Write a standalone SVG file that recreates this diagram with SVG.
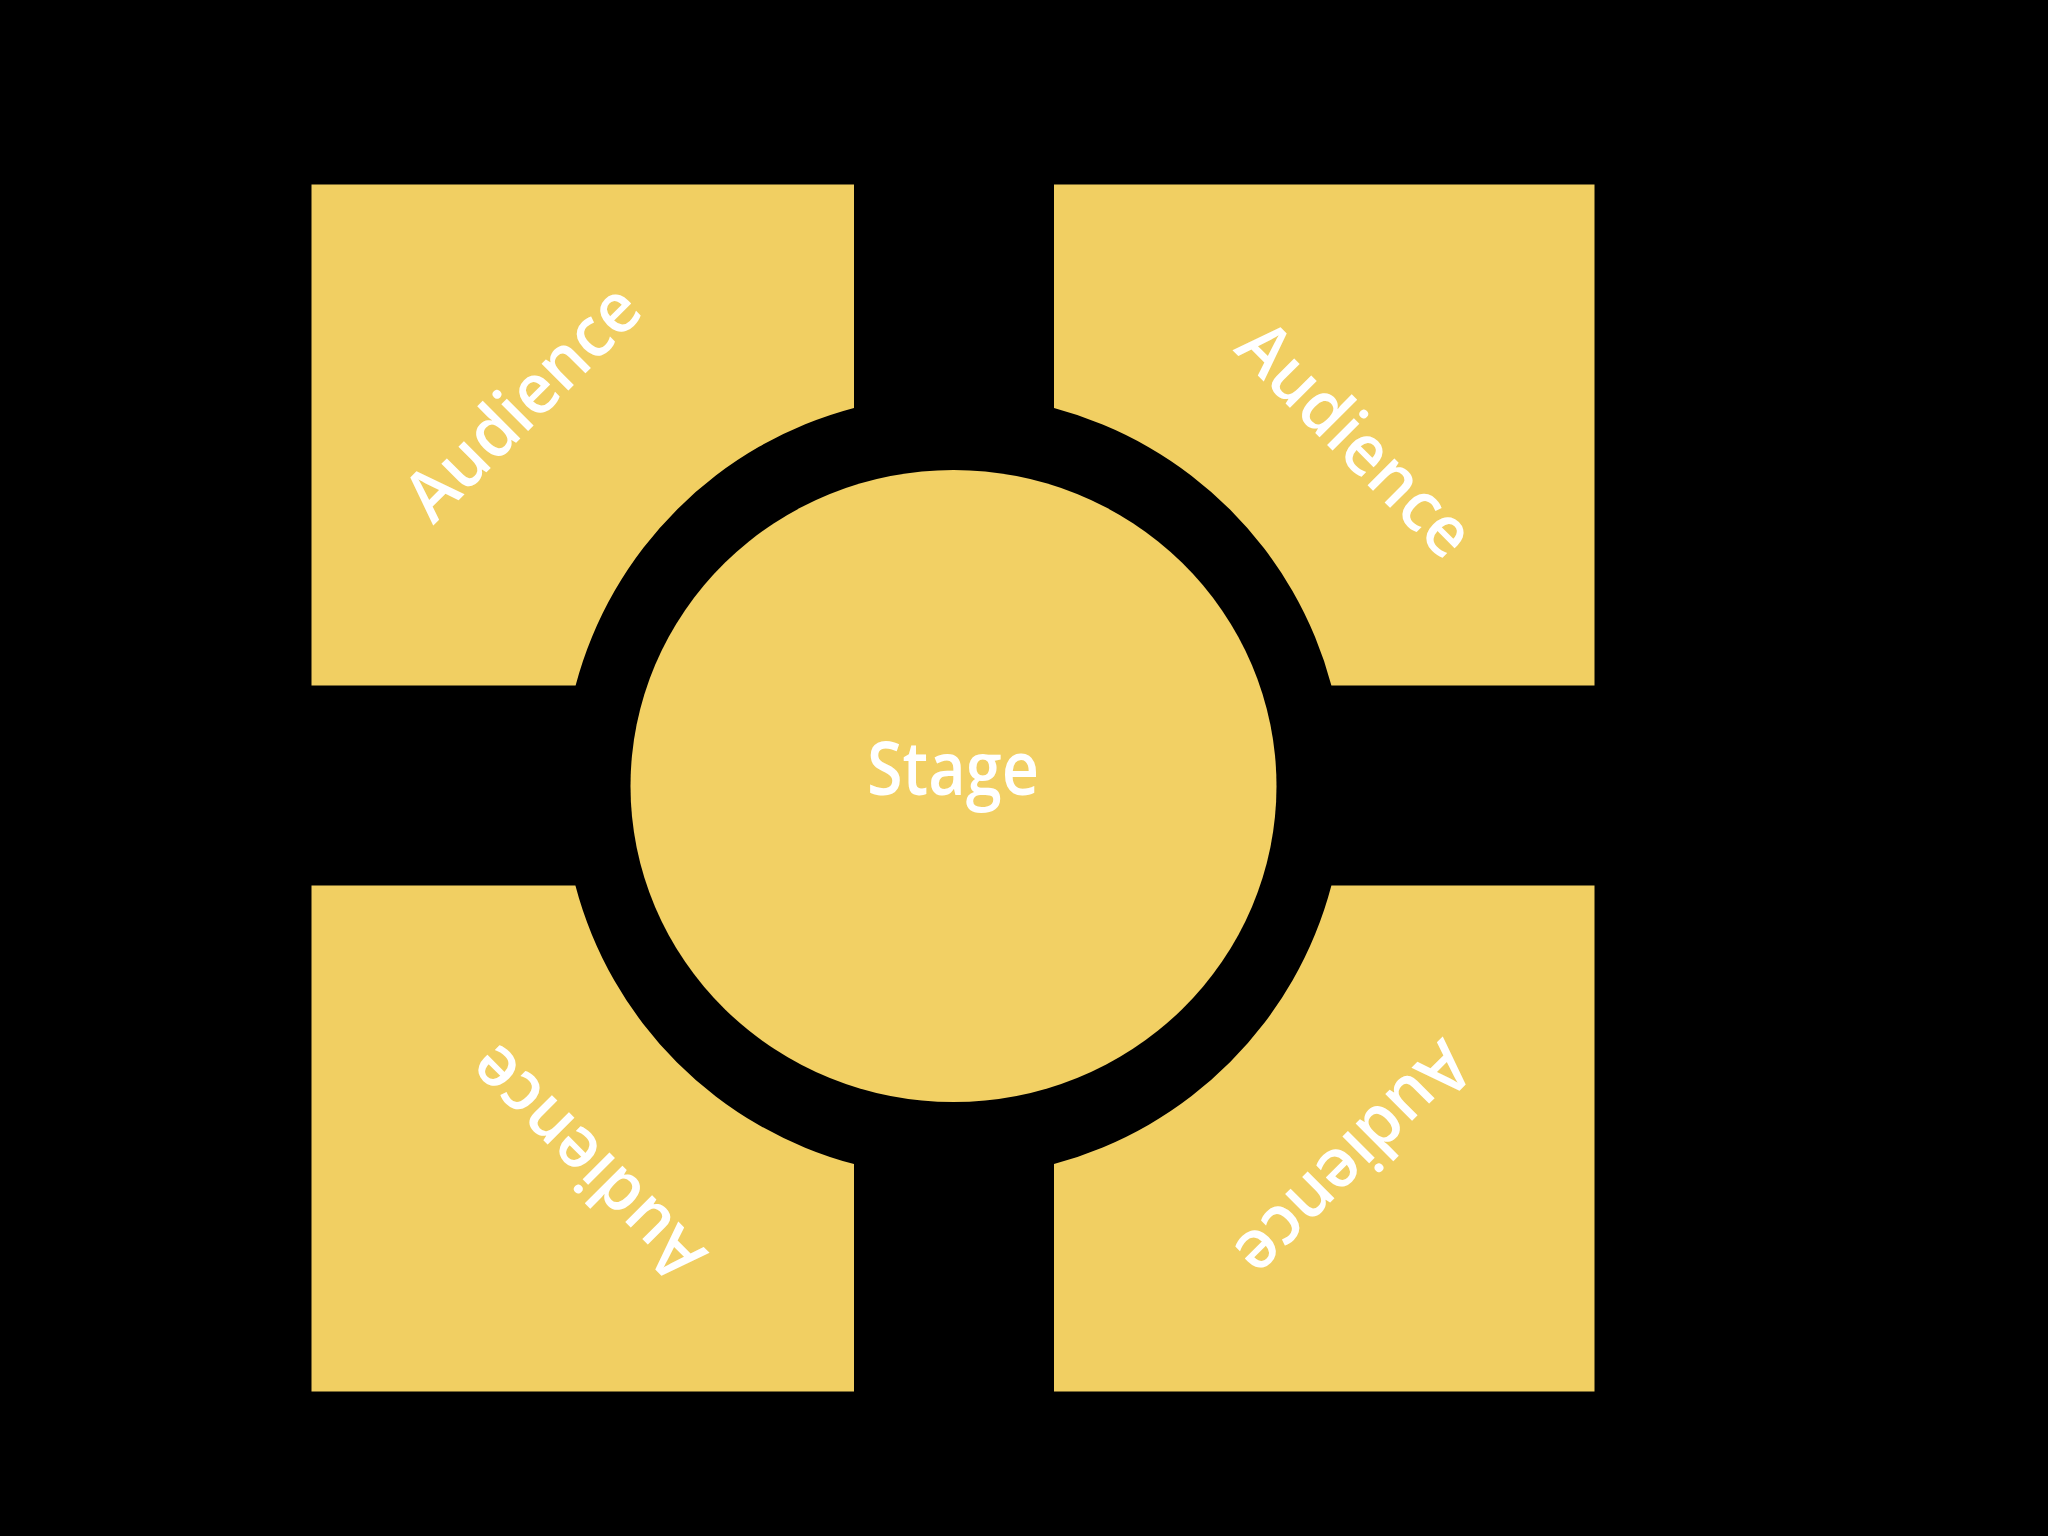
<svg xmlns="http://www.w3.org/2000/svg" width="2048" height="1536" viewBox="0 0 2048 1536">
<style>
.seat{fill:#F1CF62}
.stage{fill:#F2D064}
.lbl{font-family:"Open Sans","Noto Sans","Liberation Sans",sans-serif;font-weight:600;fill:#FFFFFF;text-anchor:middle}
.aud{font-size:70px}
.stg{font-size:74px}
</style>
<rect x="0" y="0" width="2048" height="1536" fill="#000000"/>
<g id="audience-top-left">
<path class="seat" d="M311.5,184.5 H854 V407.9 A391,391 0 0 0 575.6,685.5 H311.5 Z"/>
<text class="lbl aud" transform="translate(521,401) rotate(-45)" x="0" y="26" textLength="300" lengthAdjust="spacingAndGlyphs">Audience</text>
</g>
<g id="audience-top-right">
<path class="seat" d="M1054,184.5 H1594.5 V685.5 H1331.4 A391,391 0 0 0 1054,408.1 Z"/>
<text class="lbl aud" transform="translate(1357,438) rotate(45)" x="0" y="26" textLength="300" lengthAdjust="spacingAndGlyphs">Audience</text>
</g>
<g id="audience-bottom-left">
<path class="seat" d="M311.5,885.5 H575.4 A391,391 0 0 0 854,1164.1 V1391.5 H311.5 Z"/>
<text class="lbl aud" transform="translate(585,1165) rotate(225)" x="0" y="26" textLength="300" lengthAdjust="spacingAndGlyphs">Audience</text>
</g>
<g id="audience-bottom-right">
<path class="seat" d="M1054,1163.9 A391,391 0 0 0 1331.4,885.5 H1594.5 V1391.5 H1054 Z"/>
<text class="lbl aud" transform="translate(1355,1161) rotate(135)" x="0" y="26" textLength="300" lengthAdjust="spacingAndGlyphs">Audience</text>
</g>
<g id="stage">
<ellipse class="stage" cx="953.5" cy="786" rx="323" ry="316"/>
<text class="lbl stg" x="953" y="795" textLength="172" lengthAdjust="spacingAndGlyphs">Stage</text>
</g>
<g id="connectors"></g>
</svg>
